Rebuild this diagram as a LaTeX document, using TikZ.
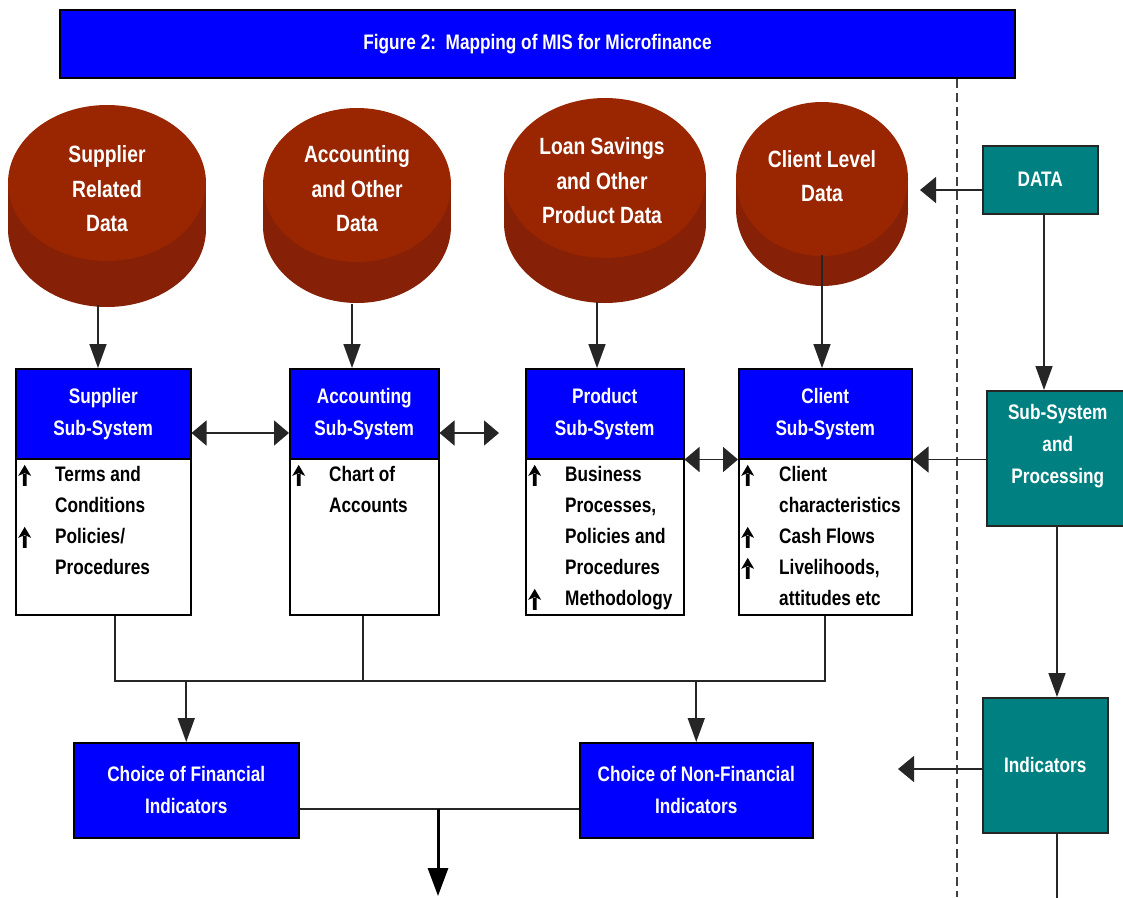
\documentclass[tikz,border=0pt]{standalone}
\usepackage{fontspec}
\setmainfont{Liberation Sans}[FakeStretch=0.82]
\usetikzlibrary{arrows.meta,calc}
\definecolor{mblue}{RGB}{0,0,255}
\definecolor{mteal}{RGB}{0,128,128}
\definecolor{disctop}{RGB}{153,38,0}
\definecolor{discside}{RGB}{134,32,6}
\newcommand\mydisc[5]{%
  \fill[discside] (#1,#5) ellipse[x radius=#3, y radius=#4];
  \fill[discside] (#1-#3,#2) rectangle (#1+#3,#5);
  \fill[disctop] (#1,#2) ellipse[x radius=#3, y radius=#4];}
\newcommand\upa{\tikz[x=1pt,y=1pt,baseline=0pt]{\fill[black] (-1.8,-4) rectangle (1.8,8)
  (-6.5,6) -- (0,17) -- (6.5,6) -- (0,9) -- cycle;}}
\begin{document}
\begin{tikzpicture}[x=1pt,y=-1pt,
  ln/.style={draw=black!85, line width=1.6pt},
  varrow/.style={ln, -{Triangle[length=24pt,width=17pt]}},
  harrow/.style={ln, -{Triangle[length=16pt,width=26pt]}},
  dbl/.style={ln, {Triangle[length=15pt,width=25pt]}-{Triangle[length=15pt,width=25pt]}},
  bigarrow/.style={draw=black, line width=3pt, -{Triangle[length=28pt,width=20pt]}},
  title/.style={draw=black, line width=1.5pt, fill=mblue, text=white, inner sep=0pt,
    font=\fontsize{21}{26}\selectfont\bfseries, minimum width=955pt, minimum height=68pt},
  hdr/.style={draw=black, line width=1.5pt, fill=mblue, text=white, align=center, inner sep=0pt,
    anchor=north west, font=\fontsize{21}{32}\selectfont\bfseries},
  body/.style={draw=black, line width=1.5pt, fill=white, inner sep=0pt, anchor=north west},
  items/.style={anchor=north west, inner sep=0pt, align=left, text=black,
    font=\fontsize{21}{31}\selectfont\bfseries},
  tbox/.style={draw=black!85, line width=1.5pt, fill=mteal, text=white, align=center, inner sep=0pt,
    anchor=north west, font=\fontsize{21}{32}\selectfont\bfseries},
  disctxt/.style={text=white, align=center, inner sep=0pt, font=\fontsize{23.5}{34.5}\selectfont\bfseries},
]
\useasboundingbox (0,0) rectangle (1123,897);
\fill[white] (0,0) rectangle (1123,897);

% title and separator
\node[title] (title) at (537.5,44) {Figure 2:\ \ Mapping of MIS for Microfinance};
\coordinate (sepb) at (957,897);
\draw[black!75, line width=1.3pt, dash pattern=on 9pt off 5pt] (title.south -| sepb) -- (sepb);

% data discs
\mydisc{107}{183}{99}{78}{229}
\mydisc{357}{185}{94}{77}{226}
\mydisc{605}{178}{101}{80}{223}
\mydisc{822}{179}{86}{77}{209}
\node[disctxt] (d1) at (107,189) {Supplier\\Related\\Data};
\node[disctxt] (d2) at (357,189) {Accounting\\and Other\\Data};
\node[disctxt] (d3) at (602,181) {Loan Savings\\and Other\\Product Data};
\node[disctxt] (d4) at (822,176) {Client Level\\Data};
\coordinate (d1b) at (98,305);
\coordinate (d2b) at (352,304);
\coordinate (d3b) at (597,302);
\coordinate (d4b) at (822,255);

% sub-system boxes
\node[body, minimum width=175pt, minimum height=156pt] (b1) at (15,458) {};
\node[body, minimum width=149pt, minimum height=156pt] (b2) at (289,458) {};
\node[body, minimum width=158pt, minimum height=156pt] (b3) at (525,458) {};
\node[body, minimum width=173pt, minimum height=156pt] (b4) at (738,458) {};
\node[hdr, minimum width=175pt, minimum height=90pt] (h1) at (15,368) {Supplier\\Sub-System};
\node[hdr, minimum width=149pt, minimum height=90pt] (h2) at (289,368) {Accounting\\Sub-System};
\node[hdr, minimum width=158pt, minimum height=90pt] (h3) at (525,368) {Product\\Sub-System};
\node[hdr, minimum width=173pt, minimum height=90pt] (h4) at (738,368) {Client\\Sub-System};

\node[items] (t1) at ([xshift=3pt,yshift=-2pt]b1.north west)
  {\begin{tabular}{@{}p{37pt}@{}l@{}}\upa & Terms and\\ & Conditions\\ \upa & Policies/\\ & Procedures\end{tabular}};
\node[items] (t2) at ([xshift=3pt,yshift=-2pt]b2.north west)
  {\begin{tabular}{@{}p{37pt}@{}l@{}}\upa & Chart of\\ & Accounts\end{tabular}};
\node[items] (t3) at ([xshift=3pt,yshift=-2pt]b3.north west)
  {\begin{tabular}{@{}p{37pt}@{}l@{}}\upa & Business\\ & Processes,\\ & Policies and\\ & Procedures\\ \upa & Methodology\end{tabular}};
\node[items] (t4) at ([xshift=3pt,yshift=-2pt]b4.north west)
  {\begin{tabular}{@{}p{38pt}@{}l@{}}\upa & Client\\ & characteristics\\ \upa & Cash Flows\\ \upa & Livelihoods,\\ & attitudes etc\end{tabular}};

% disc -> subsystem arrows
\draw[varrow] (d1b) -- (d1b |- h1.north);
\draw[varrow] (d2b) -- (d2b |- h2.north);
\draw[varrow] (d3b) -- (d3b |- h3.north);
\draw[varrow] (d4b) -- (d4b |- h4.north);

% links between subsystems
\coordinate (lk) at (0,433);
\coordinate (free) at (499,433);
\draw[dbl] (h1.east |- lk) -- (h2.west |- lk);
\draw[dbl] (h2.east |- lk) -- (free);
\draw[dbl] (h3.south east) -- (h4.south west);

% right column
\node[tbox, minimum width=115pt, minimum height=68pt] (data) at (982,145) {DATA};
\node[tbox, minimum width=142pt, minimum height=135pt] (sp) at (986,390) {Sub-System\\and\\Processing\\[-3pt]};
\node[tbox, minimum width=125pt, minimum height=135pt] (ind) at (982,697) {Indicators};
\coordinate (dataend) at (920,190);
\coordinate (dx) at (1044,0);
\coordinate (indend) at (898,769);
\coordinate (indbot) at (1057,900);
\draw[harrow] (data.west |- dataend) -- (dataend);
\draw[varrow] (data.south -| dx) -- (sp.north -| dx);
\draw[harrow] (sp.west |- h4.south) -- (h4.south east);
\draw[varrow] (sp.south -| indbot) -- (ind.north -| indbot);
\draw[harrow] (ind.west |- indend) -- (indend);
\draw[ln] (ind.south -| indbot) -- (indbot);

% bottom
\node[hdr, minimum width=225pt, minimum height=95pt] (c1) at (73,742) {Choice of Financial\\Indicators};
\node[hdr, minimum width=233pt, minimum height=95pt] (c2) at (579,742) {Choice of Non-Financial\\Indicators};
\coordinate (bus) at (0,681);
\coordinate (x1) at (115,0);
\coordinate (x2) at (363,0);
\coordinate (x4) at (825,0);
\draw[ln] (b1.south -| x1) -- (x1 |- bus) -- (x4 |- bus) -- (b4.south -| x4);
\draw[ln] (b2.south -| x2) -- (x2 |- bus);
\draw[varrow] (c1.north |- bus) -- (c1.north);
\draw[varrow] (c2.north |- bus) -- (c2.north);
\coordinate (ob) at (0,809);
\coordinate (out) at (438,896);
\draw[ln] (c1.east |- ob) -- (c2.west |- ob);
\draw[bigarrow] (out |- ob) -- (out);
\end{tikzpicture}
\end{document}
